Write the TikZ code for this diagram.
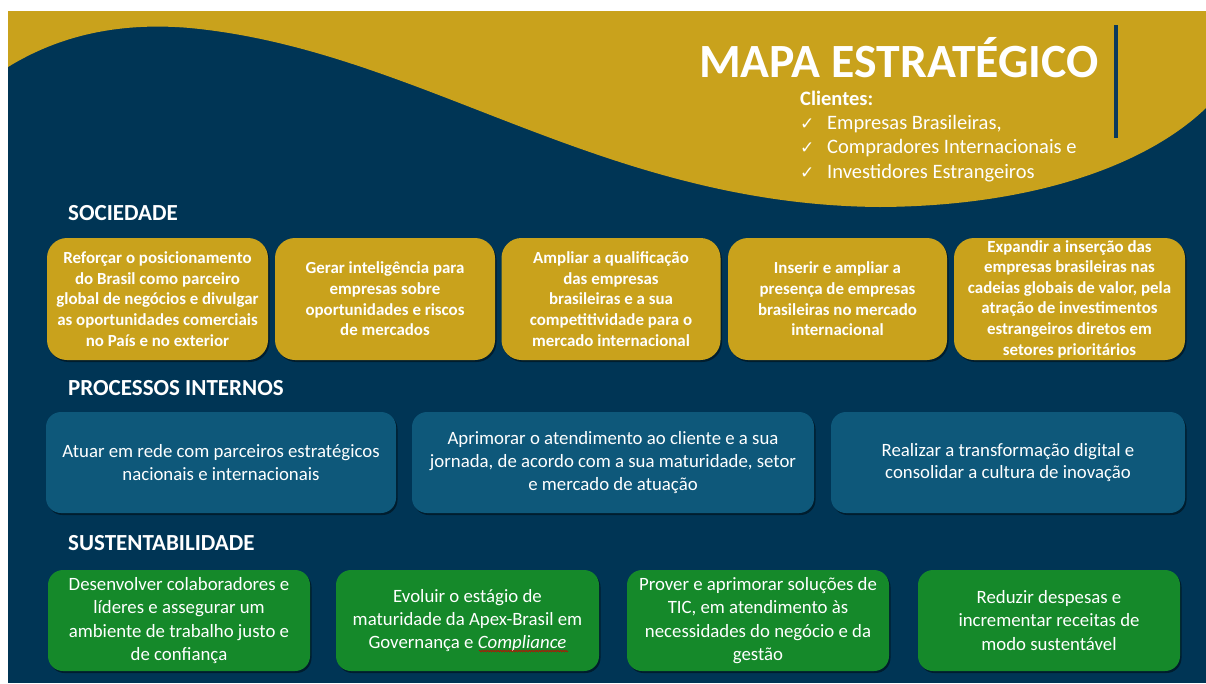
\documentclass[tikz,border=0pt]{standalone}
\usepackage{fontspec}
\setmainfont{Carlito}
\newfontfamily\symfont{DejaVu Sans}
\usetikzlibrary{shadows,decorations.pathmorphing}
\definecolor{navy}{HTML}{003555}
\definecolor{goldc}{HTML}{C9A21C}
\definecolor{tealc}{HTML}{0E587A}
\definecolor{greenc}{HTML}{15892A}
\definecolor{barc}{HTML}{0B3A5C}
\tikzset{
  shad/.style={drop shadow={shadow xshift=1.5pt,shadow yshift=-2pt,opacity=0.45,fill=black}},
  sbox/.style={shad,fill=goldc,rounded corners=20pt,text=white,align=center,inner sep=0pt,
     font=\fontsize{16.9}{20.6}\selectfont\bfseries},
  pbox/.style={shad,fill=tealc,rounded corners=15pt,text=white,align=center,inner sep=0pt,
     font=\fontsize{18.8}{22.8}\selectfont},
  gbox/.style={shad,fill=greenc,rounded corners=15pt,text=white,align=center,inner sep=0pt,
     font=\fontsize{18.8}{23.2}\selectfont},
  head/.style={text=white,anchor=west,inner sep=0pt,font=\fontsize{23}{26}\selectfont\bfseries},
  cli/.style={text=white,anchor=base west,inner sep=0pt,font=\fontsize{20.5}{24}\selectfont},
}
\newcommand{\chk}{\makebox[27pt][l]{\symfont\fontsize{17}{18}\selectfont ✓}}
\begin{document}
\begin{tikzpicture}[x=1pt,y=-1pt]
\useasboundingbox (0,0) rectangle (1206,683);
\fill[white] (0,0) rectangle (1206,683);
% panel
\fill[navy] (8,11) rectangle (1206,683);
\fill[goldc] (8,11) -- (8,67) .. controls (60,35) and (120,22) .. (190,28)
  .. controls (420,50) and (600,205) .. (880,207)
  .. controls (1040,206) and (1150,162) .. (1206,108) -- (1206,11) -- cycle;
% title
\node[text=white,anchor=base west,inner sep=0pt,font=\fontsize{47.7}{50}\selectfont\bfseries] (title) at (699,77) {MAPA ESTRATÉGICO};
\fill[barc] (1114,25) rectangle (1118,138);
\node[cli,font=\fontsize{20.5}{24}\selectfont\bfseries] (cl) at (800,105) {Clientes:};
\node[cli] (c1) at (800,129) {\chk Empresas Brasileiras,};
\node[cli] (c2) at (800,153) {\chk Compradores Internacionais e};
\node[cli] (c3) at (800,178) {\chk Investidores Estrangeiros};
% headers
\node[head] (h1) at (68,213) {SOCIEDADE};
\node[head] (h2) at (68,388) {PROCESSOS INTERNOS};
\node[head] (h3) at (68,543) {SUSTENTABILIDADE};
% row 1
\node[sbox,minimum width=221pt,minimum height=122pt] (s1) at (157.5,299) {Reforçar o posicionamento\\do Brasil como parceiro\\global de negócios e divulgar\\as oportunidades comerciais\\no País e no exterior};
\node[sbox,minimum width=220pt,minimum height=122pt] (s2) at (385,299) {Gerar inteligência para\\empresas sobre\\oportunidades e riscos\\de mercados};
\node[sbox,minimum width=219pt,minimum height=122pt] (s3) at (611,299) {Ampliar a qualificação\\das empresas\\brasileiras e a sua\\competitividade para o\\mercado internacional};
\node[sbox,minimum width=219pt,minimum height=122pt] (s4) at (837.5,299) {Inserir e ampliar a\\presença de empresas\\brasileiras no mercado\\internacional};
\node[sbox,minimum width=231pt,minimum height=122pt] (s5) at (1069.5,299) {Expandir a inserção das\\empresas brasileiras nas\\cadeias globais de valor, pela\\atração de investimentos\\estrangeiros diretos em\\setores prioritários};
% row 2
\node[pbox,minimum width=350pt,minimum height=101pt] (p1) at (221,462.5) {Atuar em rede com parceiros estratégicos\\nacionais e internacionais};
\node[pbox,minimum width=402pt,minimum height=101pt] (p2) at (613,462.5) {Aprimorar o atendimento ao cliente e a sua\\jornada, de acordo com a sua maturidade, setor\\e mercado de atuação};
\node[pbox,minimum width=354pt,minimum height=101pt] (p3) at (1008,462.5) {Realizar a transformação digital e\\consolidar a cultura de inovação};
% row 3
\node[gbox,minimum width=262pt,minimum height=101pt] (g1) at (179,620.5) {Desenvolver colaboradores e\\líderes e assegurar um\\ambiente de trabalho justo e\\de confiança};
\node[gbox,minimum width=263pt,minimum height=101pt] (g2) at (467.5,620.5) {Evoluir o estágio de\\maturidade da Apex-Brasil em\\Governança e \textit{Compliance}};
\node[gbox,minimum width=262pt,minimum height=101pt] (g3) at (758,620.5) {Prover e aprimorar soluções de\\TIC, em atendimento às\\necessidades do negócio e da\\gestão};
\node[gbox,minimum width=262pt,minimum height=101pt] (g4) at (1049,620.5) {Reduzir despesas e\\incrementar receitas de\\modo sustentável};
\draw[red!80!black,line width=0.6pt,decorate,decoration={snake,amplitude=0.8pt,segment length=2.6pt}] (479,651) -- (568,651);
\end{tikzpicture}
\end{document}
